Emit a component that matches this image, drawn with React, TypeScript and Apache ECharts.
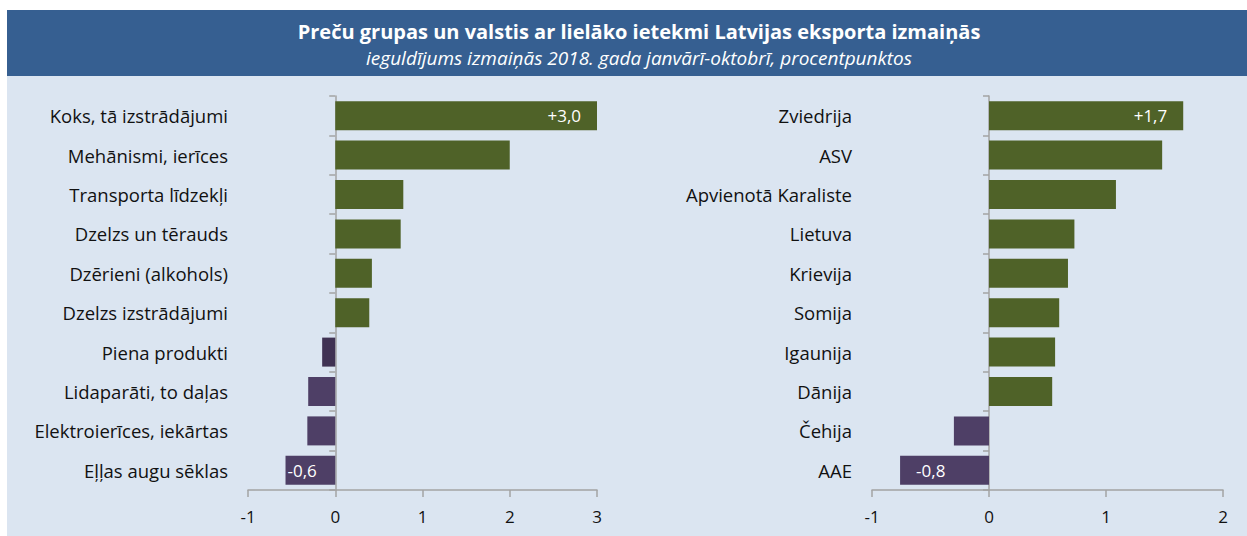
import React, { useEffect, useRef } from "react";
import * as echarts from "echarts";

const goodsCategories = [
  "Koks, tā izstrādājumi",
  "Mehānismi, ierīces",
  "Transporta līdzekļi",
  "Dzelzs un tērauds",
  "Dzērieni (alkohols)",
  "Dzelzs izstrādājumi",
  "Piena produkti",
  "Lidaparāti, to daļas",
  "Elektroierīces, iekārtas",
  "Eļļas augu sēklas",
];
const goodsValues = [3.0, 2.0, 0.78, 0.75, 0.42, 0.39, -0.15, -0.31, -0.32, -0.57];
const goodsLabels = ["+3,0", "", "", "", "", "", "", "", "", "-0,6"];

const countryCategories = [
  "Zviedrija",
  "ASV",
  "Apvienotā Karaliste",
  "Lietuva",
  "Krievija",
  "Somija",
  "Igaunija",
  "Dānija",
  "Čehija",
  "AAE",
];
const countryValues = [1.66, 1.48, 1.085, 0.73, 0.675, 0.6, 0.565, 0.54, -0.3, -0.76];
const countryLabels = ["+1,7", "", "", "", "", "", "", "", "", "-0,8"];

const goodsTicks = { min: -1, max: 3, interval: 1 };
const countryTicks = { min: -1, max: 2, interval: 1 };

const titleText = "Preču grupas un valstis ar lielāko ietekmi Latvijas eksporta izmaiņās";
const subtitleText = "ieguldījums izmaiņās 2018. gada janvārī-oktobrī, procentpunktos";

const GREEN = "#4F6228";
const PURPLE = "#4E3F66";
const PURPLE_DARK = "#403253";
const AXIS = "#A3A3A3";
const FONT = "'Open Sans', Lato, sans-serif";

function buildData(values: number[], labels: string[], negDist: number[], darkIdx: number[]) {
  return values.map((v, i) => {
    const item: any = {
      value: v,
      itemStyle: { color: v >= 0 ? GREEN : darkIdx.includes(i) ? PURPLE_DARK : PURPLE },
    };
    if (labels[i]) {
      item.label = {
        show: true,
        formatter: labels[i],
        position: v >= 0 ? "insideRight" : "insideLeft",
        distance: v >= 0 ? 16 : negDist[i],
        color: "#FFFFFF",
        fontSize: 17,
        fontFamily: FONT,
      };
    }
    return item;
  });
}

export default function App() {
  const ref = useRef<HTMLDivElement>(null);
  useEffect(() => {
    document.body.style.margin = "0";
    if (!ref.current) return;
    const chart = echarts.init(ref.current, undefined, { renderer: "svg" });

    const yAxisCommon = (data: string[], gridIndex: number, margin: number) => ({
      type: "category",
      gridIndex,
      data,
      inverse: true,
      axisLine: { onZero: true, lineStyle: { color: AXIS, width: 1.5 } },
      axisTick: { show: true, length: 6, inside: false, lineStyle: { color: AXIS, width: 1.5 } },
      axisLabel: { margin, color: "#111", fontSize: 18.5, fontFamily: FONT },
      splitLine: { show: false },
    });
    const xAxisCommon = (t: { min: number; max: number; interval: number }, gridIndex: number) => ({
      type: "value",
      gridIndex,
      min: t.min,
      max: t.max,
      interval: t.interval,
      axisLine: { show: true, onZero: false, lineStyle: { color: AXIS, width: 1.5 } },
      axisTick: { show: true, length: 7, lineStyle: { color: AXIS, width: 1.5 } },
      axisLabel: { margin: 18, color: "#111", fontSize: 17, fontFamily: FONT },
      splitLine: { show: false },
    });

    chart.setOption({
      animation: false,
      graphic: [
        { type: "rect", shape: { x: 7, y: 76, width: 1240, height: 460 }, style: { fill: "#DBE5F1" }, z: -10 },
        { type: "rect", shape: { x: 7, y: 10, width: 1240, height: 66 }, style: { fill: "#365F91" }, z: -10 },
      ],
      title: [
        {
          text: titleText,
          left: 634,
          top: 16,
          textAlign: "center",
          textStyle: { color: "#FFFFFF", fontSize: 20, fontWeight: "bold", fontFamily: FONT },
        },
        {
          text: subtitleText,
          left: 634,
          top: 43,
          textAlign: "center",
          textStyle: { color: "#FFFFFF", fontSize: 19, fontStyle: "italic", fontWeight: "normal", fontFamily: FONT },
        },
      ],
      grid: [
        { left: 248, top: 96, width: 349, height: 394, outerBoundsMode: "none", containLabel: false },
        { left: 872, top: 96, width: 351, height: 394, outerBoundsMode: "none", containLabel: false },
      ],
      xAxis: [xAxisCommon(goodsTicks, 0), xAxisCommon(countryTicks, 1)],
      yAxis: [yAxisCommon(goodsCategories, 0, 20), yAxisCommon(countryCategories, 1, 20)],
      series: [
        {
          type: "bar",
          xAxisIndex: 0,
          yAxisIndex: 0,
          barWidth: 29,
          data: buildData(goodsValues, goodsLabels, [0, 0, 0, 0, 0, 0, 0, 0, 0, 2], [6]),
        },
        {
          type: "bar",
          xAxisIndex: 1,
          yAxisIndex: 1,
          barWidth: 29,
          data: buildData(countryValues, countryLabels, [0, 0, 0, 0, 0, 0, 0, 0, 0, 16], []),
        },
      ],
    });
    return () => chart.dispose();
  }, []);
  return <div ref={ref} style={{ width: 1247, height: 536 }} />;
}
